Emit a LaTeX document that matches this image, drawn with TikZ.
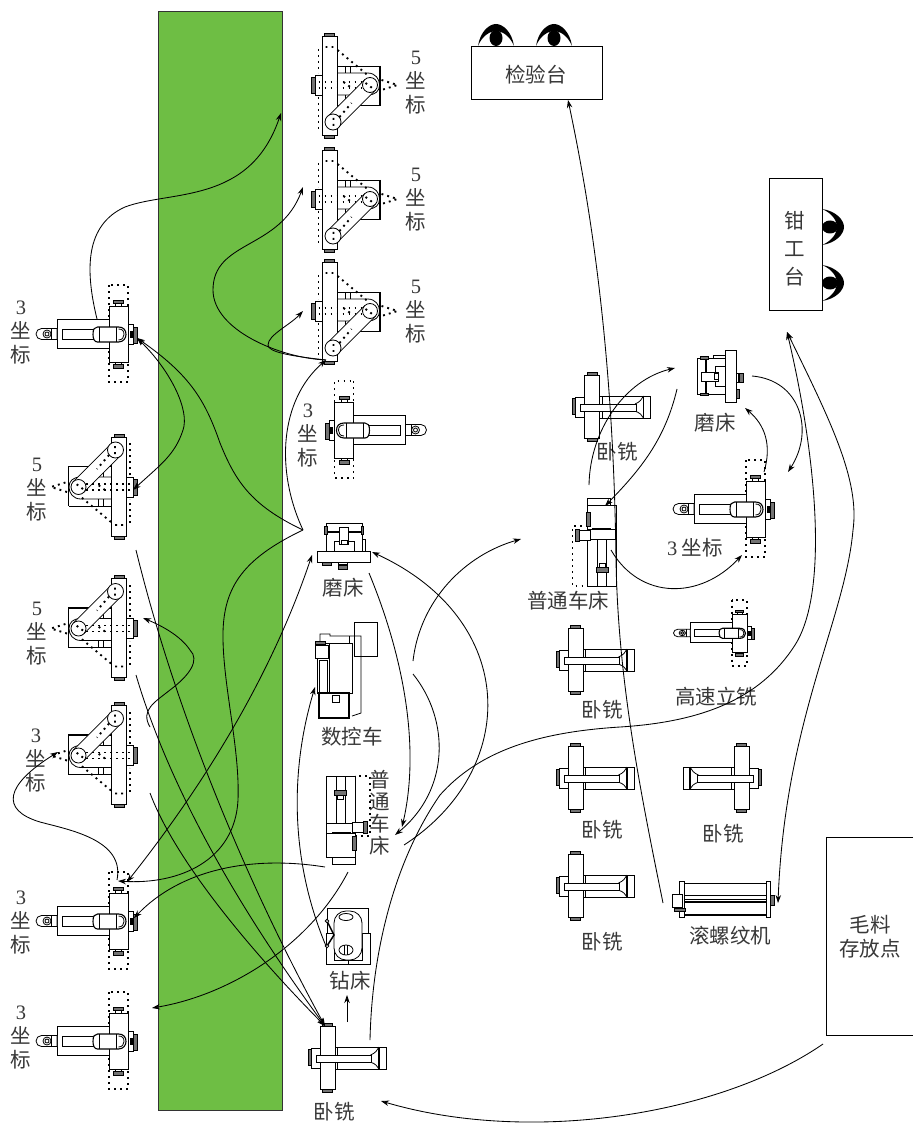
\documentclass[tikz,border=0pt]{standalone}
\usepackage{fontspec}
\setmainfont{Noto Sans CJK SC}
\newfontfamily\dig{Liberation Serif}
\usetikzlibrary{arrows.meta}
\definecolor{bandgreen}{HTML}{6EBE44}
\definecolor{inkgray}{gray}{0.22}
\tikzset{
  ml/.style={draw=black,line width=0.8pt,fill=white},
  ol/.style={draw=black,line width=0.8pt},
  hv/.style={draw=black,line width=1.5pt},
  knob/.style={draw=black,line width=0.7pt,fill=black!55},
  dots/.style={draw=black,line width=1.9pt,dash pattern=on 1.9pt off 4.1pt},
  lab/.style={inner sep=0pt,text=inkgray,font=\fontsize{20.5}{24}\selectfont,align=center},
  flow/.style={draw=black,line width=0.85pt},
  tip/.style={-{Stealth[length=8pt,width=5.5pt]}},
  tips/.style={{Stealth[length=8pt,width=5.5pt]}-{Stealth[length=8pt,width=5.5pt]}},
  station/.style={draw=black,line width=0.9pt,fill=white},
  threeaxis/.pic={
    \draw[dots] (-9.5,-49) rectangle (9.5,48);
    \path[ml] (-61.5,-15) rectangle (-9.5,14);
    \path[ml] (-61.5,-5.5) -- (-77,-5.5) .. controls (-80,-5.5) and (-82.5,-3) .. (-82.5,0) .. controls (-82.5,3) and (-80,5.5) .. (-77,5.5) -- (-61.5,5.5) -- cycle;
    \draw[ol] (-67,-5.5) -- (-67,5.5);
    \draw[ol] (-71.5,0) circle[radius=4] (-71.5,0) circle[radius=2];
    \path[ml] (-9.5,-28) rectangle (9.5,28);
    \path[ml] (-56.5,-5) rectangle (-22,5);
    \path[draw=black,line width=1.1pt,fill=white] (-21,-7) .. controls (-24,-7) and (-25.5,-5) .. (-25.5,0.5) .. controls (-25.5,5) and (-24,8) .. (-21,8) -- (0,8) .. controls (5,8) and (7.5,4) .. (7.5,0.5) .. controls (7.5,-4) and (5,-7) .. (0,-7) -- cycle;
    \draw[ol] (-2,-7) -- (-2,8) (-19,-7) -- (-19,8);
    \draw[ol] (0,6) .. controls (4,6) and (5.5,3) .. (5.5,0.5) .. controls (5.5,-3) and (4,-5) .. (0,-5);
    \path[knob] (-5,-34) rectangle (5,-30.5);
    \path[ml] (-3,-30.5) rectangle (3,-28);
    \path[knob] (-5,30.5) rectangle (5,34);
    \path[ml] (-3,28) rectangle (3,30.5);
    \path[ml] (9.5,-10) rectangle (15,10);
    \path[knob] (15,-7) rectangle (19,9);
    \fill[black] (11,-3) rectangle (15,4);
  },
  fiveaxis/.pic={
    \draw[ol] (7.5,-19) -- (50.5,-19);
    \draw[hv] (50.5,-19) -- (50.5,20.5) -- (7.5,20.5);
    \draw[ol] (7.5,-12) -- (38,-12) .. controls (46,-12) and (50,-6) .. (50,0);
    \draw[ol] (7.5,10) -- (38,10) .. controls (46,10) and (50,6) .. (50,0);
    \draw[ol] (15.5,-19) -- (15.5,-12) (21,-19) -- (21,-12) (15.5,10) -- (15.5,20.5) (21,10) -- (21,20.5);
    \path[ml] (-7.5,-49) rectangle (7.5,50);
    \path[ml] (-14,-10) rectangle (-7.5,10);
    \path[knob] (-18,-8) rectangle (-14,8);
    \path[knob] (-5,-52) rectangle (5,-49);
    \path[knob] (-5,50) rectangle (5,53);
    \path[ml] (45.8,5.3) -- (8.8,42.3) -- (-1.8,31.7) -- (35.2,-5.3) -- cycle;
    \path[ml] (40.5,0) circle[radius=7.5];
    \path[ml] (3.5,37) circle[radius=8];
    \draw[dots] (-11,-3) -- (36,-3) (-11,3) -- (36,3);
    \draw[dots] (52,-5) -- (68,0) -- (52,5);
    \draw[dots] (-11,-36) -- (-11,-12) (-11,12) -- (-11,45);
    \draw[dots] (-4,-38) -- (5,-38) (8,-35) -- (38,-10);
    \draw[dots] (36,-2) -- (44,4) (4,33) -- (4,42) (10,32) -- (22,18) (14,-3) -- (22,3);
  },
  millunit/.pic={
    \path[ml] (-16.5,-10) rectangle (-7.5,10);
    \path[knob] (-19.5,-9) rectangle (-16.5,7);
    \path[ml] (-7.5,-32) rectangle (7.5,31);
    \path[knob] (-5,-35) rectangle (5,-32);
    \path[knob] (-5,31) rectangle (5,34);
    \path[ml] (7.5,-11) rectangle (58.5,11);
    \draw[ol] (10,-11) -- (10,11);
    \draw[ol] (43,-3) .. controls (48,-5) and (50,-8) .. (51.5,-11);
    \draw[ol] (43,4) .. controls (48,6) and (50,8) .. (51.5,11);
    \draw[hv] (51.5,-11) -- (51.5,11);
    \path[ml] (-11.5,-3) rectangle (44,4);
  },
  grinder/.pic={
    \path[ml] (-18,-33.5) rectangle (18,-5.5);
    \draw[hv] (-18,-24.5) -- (18,-24.5);
    \path[knob] (-19.5,-30) rectangle (-17,-22);
    \path[knob] (17,-30) rectangle (19.5,-22);
    \path[ml] (18,-17) rectangle (21,-5.5);
    \path[ml] (-10,-15) rectangle (10,-5.5);
    \path[ml] (-5,-29) rectangle (4,-12);
    \draw[ol] (-3,-12) rectangle (3,-16);
    \path[ml] (-26.5,-5.5) rectangle (26,5.5);
    \path[knob] (-22,5.5) rectangle (-13,8.5);
    \path[ml] (-6,5.5) rectangle (3,8);
    \path[knob] (-6,9) rectangle (3,12.5);
  },
  lathe/.pic={
    \draw[dots] (14.5,-44) rectangle (29.5,16);
    \path[ml] (-14.5,-44) rectangle (14.5,37);
    \path[ml] (-8.5,37) rectangle (14.5,44);
    \path[ml] (-4.5,-44) rectangle (4.5,3);
    \path[knob] (-6,-30) rectangle (6,-25);
    \path[ml] (-3,-25) rectangle (3,-21);
    \path[ml] (-14.5,3) rectangle (14.5,13);
    \fill[black] (-9,12) rectangle (10,14);
    \path[ml] (11.5,2) rectangle (22.5,12);
    \path[knob] (22.5,1) rectangle (26.5,13);
    \path[knob] (11.5,16) rectangle (15.5,30);
  },
  eye/.pic={
    \fill[black] (-18,0) .. controls (-16,-14) and (-7,-22) .. (0,-22) .. controls (7,-22) and (16,-14) .. (18,0) .. controls (14,-10) and (6,-15) .. (0,-15) .. controls (-6,-15) and (-14,-10) .. (-18,0) -- cycle;
    \fill[black] (0,-8) ellipse[x radius=6.5,y radius=8];
  }
}
\newcommand{\dg}[1]{{\dig #1}}
\begin{document}
\begin{tikzpicture}[x=1pt,y=-1pt]
\useasboundingbox (0,0) rectangle (913,1123);
\path[fill=bandgreen,draw=black!80,line width=0.9pt] (158,11) rectangle (282,1110);

% machines
\pic (mA) at (118.5,334) {threeaxis};
\pic (mB) at (118.5,921) {threeaxis};
\pic (mC) at (118.5,1041) {threeaxis};
\pic[xscale=-1] (mD) at (344,430) {threeaxis};
\pic (mE) at (755.5,509) {threeaxis};
\pic[xscale=0.8,yscale=0.68] (mF) at (739.5,633) {threeaxis};
\pic (f1) at (329.5,85) {fiveaxis};
\pic (f2) at (329.5,199) {fiveaxis};
\pic (f3) at (329.5,311) {fiveaxis};
\pic[rotate=180] (f4) at (119,487) {fiveaxis};
\pic[rotate=180] (f5) at (119,628.5) {fiveaxis};
\pic[rotate=180] (f6) at (119,755.5) {fiveaxis};
\pic (w1) at (327.5,1058) {millunit};
\pic (w2) at (592,407) {millunit};
\pic (w3) at (575.5,660) {millunit};
\pic (w4) at (575.5,778) {millunit};
\pic (w5) at (575.5,886) {millunit};
\pic[xscale=-1] (w6) at (741.5,778) {millunit};
\pic (g1) at (344,556.5) {grinder};
\pic[rotate=90] (g2) at (730.5,376) {grinder};
\pic (l1) at (340.5,820) {lathe};
\pic[rotate=180] (l2) at (602,542) {lathe};

% CNC lathe
\path[ml] (354,622) rectangle (377,656);
\draw[ol] (320,643) -- (320,634) -- (330,634) -- (330,636) -- (361,636) -- (361,713) -- (352,716);
\draw[ol] (349,636) -- (349,643);
\path[ml] (317,643) rectangle (352,693);
\draw[ol] (329,643) -- (329,693);
\path[ml] (315,645) rectangle (328,658);
\path[knob] (315,641) rectangle (325,644);
\path[ml] (319,660) rectangle (327,693);
\path[ml,line width=1.2pt] (319,693) rectangle (349,718);
\path[ml] (332,695) rectangle (339,702);
\draw[ol] (354,622) rectangle (377,656);

% drill
\draw[ol] (327,933) -- (327,908) -- (368,908) -- (368,933);
\path[ml] (326,933) -- (326,964) -- (370,964) -- (370,933) -- (362,933) -- (362,960) -- (334,960) -- (334,933) -- cycle;
\path[ml,rounded corners=12pt] (334,911) rectangle (362,960);
\draw[ol] (346,917) ellipse[x radius=7,y radius=3.5];
\draw[ol] (346,950) ellipse[x radius=7,y radius=5];
\draw[ol] (344.5,945) -- (344.5,955) (347.5,945) -- (347.5,955) (348,960) -- (348,964);
\draw[hv] (327,921) -- (334,935) -- (327,946);
\path[ml] (327,921) circle[radius=1.8] (327,946) circle[radius=1.8];

% thread roller
\path[ml] (680,883) rectangle (768,915);
\draw[hv] (680,914.5) -- (768,914.5);
\draw[ol] (682,895) -- (768,895) (682,899) -- (768,899);
\draw[hv] (682,902) -- (768,902);
\path[ml] (679,881) rectangle (684,917);
\path[ml] (766,881) rectangle (770,917);
\path[ml] (672,894) rectangle (682,907);
\path[knob] (674,908) rectangle (685,911);
\path[knob] (770,895) rectangle (774,905);

% eyes and benches
\pic (e1) at (496,46) {eye};
\pic (e2) at (554,46) {eye};
\pic[rotate=-90] (e3) at (822,227) {eye};
\pic[rotate=-90] (e4) at (822,283) {eye};
\node[station,minimum width=131pt,minimum height=53pt,inner sep=0pt] (jyt) at (536.5,72.5) {};
\node[station,minimum width=53pt,minimum height=132pt,inner sep=0pt] (qgt) at (795.5,244) {};
\path[station] (913,837) -- (826.5,837) -- (826.5,1035) -- (913,1035);

% labels
\node[lab] (t1) at (536,75) {检验台};
\node[lab,font=\fontsize{20.5}{28}\selectfont] (t2) at (795,249) {钳\\工\\台};
\node[lab] (t3) at (870,937) {毛料\\存放点};
\node[lab] (a1) at (416,83) {\dg{5}\\坐\\标};
\node[lab] (a2) at (416,200) {\dg{5}\\坐\\标};
\node[lab] (a3) at (416,312) {\dg{5}\\坐\\标};
\node[lab] (a4) at (308,436) {\dg{3}\\坐\\标};
\node[lab] (a5) at (21,333) {\dg{3}\\坐\\标};
\node[lab] (a6) at (37,490) {\dg{5}\\坐\\标};
\node[lab] (a7) at (37,634) {\dg{5}\\坐\\标};
\node[lab] (a8) at (36,761) {\dg{3}\\坐\\标};
\node[lab] (a9) at (21,923) {\dg{3}\\坐\\标};
\node[lab] (a10) at (21,1038) {\dg{3}\\坐\\标};
\node[lab] (b1) at (343,588) {磨床};
\node[lab] (b2) at (352,737) {数控车};
\node[lab,font=\fontsize{20.5}{22}\selectfont] (b3) at (380,813) {普\\通\\车\\床};
\node[lab] (b4) at (350,981) {钻床};
\node[lab] (b5) at (334,1112) {卧铣};
\node[lab] (c1) at (617,452) {卧铣};
\node[lab] (c2) at (715,423) {磨床};
\node[lab] (c3) at (695,548) {\dg{3} 坐标};
\node[lab] (c4) at (568,601) {普通车床};
\node[lab] (c5) at (602,710) {卧铣};
\node[lab] (c6) at (716,697) {高速立铣};
\node[lab] (c7) at (602,830) {卧铣};
\node[lab] (c8) at (723,834) {卧铣};
\node[lab] (c9) at (602,942) {卧铣};
\node[lab] (c10) at (730,936) {滚螺纹机};

% connector end points
\coordinate (pA1) at (97,319);
\coordinate (pA2) at (137,338);
\coordinate (pTop) at (281,113);
\coordinate (pF2) at (303,187);
\coordinate (pF3) at (303,311);
\coordinate (pF3b) at (326,360);
\coordinate (pG) at (303,530);
\coordinate (pF4) at (133,490);
\coordinate (pF4b) at (136,550);
\coordinate (pF5) at (143,618);
\coordinate (pF5b) at (136,675);
\coordinate (pF6) at (150,727);
\coordinate (pF6b) at (150,793);
\coordinate (pF6c) at (58,752);
\coordinate (pW) at (325,1026);
\coordinate (pB1) at (117,880);
\coordinate (pB2) at (127,882);
\coordinate (pB3) at (118,881);
\coordinate (pB4) at (134,918);
\coordinate (pC) at (152,1008);
\coordinate (pG2) at (312,555);
\coordinate (pG3) at (372,552);
\coordinate (pL1) at (325,867);
\coordinate (pL2) at (348,872);
\coordinate (pL3) at (369,573);
\coordinate (pL4) at (402,827);
\coordinate (pL5) at (395,835);
\coordinate (pL6) at (404,845);
\coordinate (pN1) at (413,661);
\coordinate (pN2) at (413,674);
\coordinate (pN3) at (521,539);
\coordinate (pD1) at (326,946);
\coordinate (pD2) at (315,687);
\coordinate (pD3) at (347,995);
\coordinate (pD4) at (347,1022);
\coordinate (pW2) at (370,1040);
\coordinate (pQ) at (787,332);
\coordinate (pR) at (778,903);
\coordinate (pM) at (823,1044);
\coordinate (pW3) at (381,1101);
\coordinate (pJ) at (568,100);
\coordinate (pR2) at (663,903);
\coordinate (pT1) at (589,485);
\coordinate (pT2) at (675,368);
\coordinate (pT3) at (677,389);
\coordinate (pT4) at (605,506);
\coordinate (pT5) at (611,550);
\coordinate (pT6) at (742,555);
\coordinate (pT7) at (752,376);
\coordinate (pT8) at (788,472);
\coordinate (pT9) at (764,472);
\coordinate (pT10) at (745,408);

% connectors
\draw[flow,tip] (pA1) .. controls (85,270) and (85,225) .. (125,207) .. controls (170,190) and (250,205) .. (pTop);
\draw[flow,tip] (pF3b) .. controls (280,358) and (213,330) .. (213,290) .. controls (213,240) and (280,250) .. (pF2);
\draw[flow,tip] (pF3b) .. controls (290,356) and (268,352) .. (268,345) .. controls (268,335) and (290,325) .. (pF3);
\draw[flow,tip] (pG) .. controls (275,470) and (280,400) .. (pF3b);
\draw[flow,tip] (pG) .. controls (250,505) and (235,480) .. (220,443) .. controls (205,400) and (190,375) .. (pA2);
\draw[flow,tips] (pA2) .. controls (170,370) and (190,410) .. (183,430) .. controls (175,455) and (160,465) .. (pF4);
\draw[flow,tip] (pF4b) .. controls (175,710) and (245,880) .. (pW);
\draw[flow,tip] (pF5b) .. controls (170,790) and (240,910) .. (pW);
\draw[flow,tip] (pF6b) .. controls (175,860) and (250,950) .. (pW);
\draw[flow,tip] (pF6) .. controls (140,710) and (155,702) .. (170,690) .. controls (190,675) and (200,660) .. (190,650) .. controls (180,635) and (160,625) .. (pF5);
\draw[flow,tip] (pB1) .. controls (125,840) and (70,830) .. (40,822) .. controls (0,810) and (5,785) .. (pF6c);
\draw[flow,tips] (pB2) .. controls (200,790) and (270,680) .. (pG2);
\draw[flow,tip] (pG) .. controls (240,560) and (222,590) .. (223,640) .. controls (224,690) and (240,750) .. (238,800) .. controls (235,860) and (180,885) .. (pB3);
\draw[flow,tip] (pL1) .. controls (250,855) and (180,870) .. (pB4);
\draw[flow,tip] (pL2) .. controls (310,945) and (230,995) .. (pC);
\draw[flow,tip] (pL3) .. controls (405,660) and (420,750) .. (pL4);
\draw[flow,tip] (pL6) .. controls (520,770) and (520,620) .. (pG3);
\draw[flow,tip] (pN1) .. controls (420,600) and (465,555) .. (pN3);
\draw[flow,tip] (pN2) .. controls (450,720) and (450,790) .. (pL5);
\draw[flow,tip] (pD1) .. controls (290,860) and (290,770) .. (pD2);
\draw[flow,tip] (pD4) -- (pD3);
\draw[flow,tip] (pW2) .. controls (372,950) and (395,860) .. (440,795) .. controls (480,750) and (540,732) .. (620,727) .. controls (700,722) and (760,700) .. (795,645) .. controls (830,590) and (815,450) .. (pQ);
\draw[flow,tips] (pQ) .. controls (830,420) and (860,480) .. (853,530) .. controls (845,620) and (785,720) .. (pR);
\draw[flow,tip] (pM) .. controls (720,1115) and (530,1145) .. (pW3);
\draw[flow,tip] (pR2) .. controls (640,790) and (618,680) .. (616,560) .. controls (614,400) and (600,250) .. (pJ);
\draw[flow,tip] (pT1) .. controls (590,430) and (625,380) .. (pT2);
\draw[flow,tip] (pT3) .. controls (665,440) and (640,470) .. (pT4);
\draw[flow,tip] (pT5) .. controls (640,600) and (700,600) .. (pT6);
\draw[flow,tip] (pT7) .. controls (800,380) and (815,430) .. (pT8);
\draw[flow,tip] (pT9) .. controls (772,445) and (765,425) .. (pT10);
\end{tikzpicture}
\end{document}
